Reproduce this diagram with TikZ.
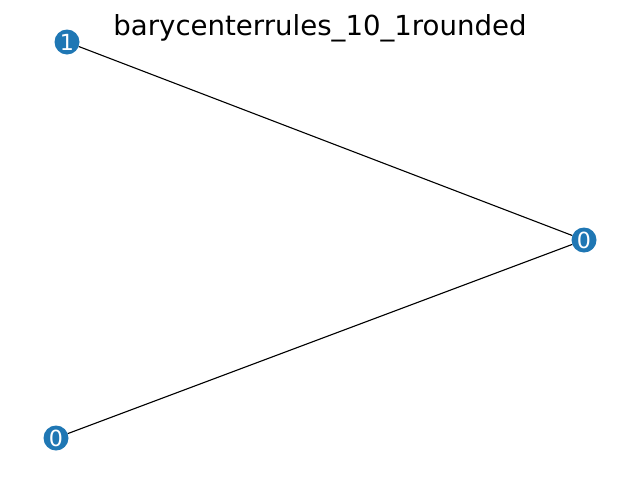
\documentclass[tikz,border=0pt]{standalone}
\usepackage{fontspec}
\setmainfont{DejaVu Sans}
\definecolor{nodeblue}{HTML}{1F77B4}
\begin{document}
\begin{tikzpicture}[x=1pt,y=-1pt,
  vertex/.style={circle,fill=nodeblue,draw=none,minimum size=25pt,inner sep=0pt,text=white,font=\fontsize{22.2}{24}\selectfont},
  edge/.style={draw=black,line width=1.1pt}]
\useasboundingbox (0,0) rectangle (640,480);
\node[font=\fontsize{27.6}{30}\selectfont,anchor=base,inner sep=0pt] (title) at (320,35) {barycenterrules\_10\_1rounded};
\node[vertex] (a) at (67,42) {1};
\node[vertex] (b) at (584,240) {0};
\node[vertex] (c) at (56,438) {0};
\draw[edge] (a) -- (b);
\draw[edge] (c) -- (b);
\end{tikzpicture}
\end{document}
